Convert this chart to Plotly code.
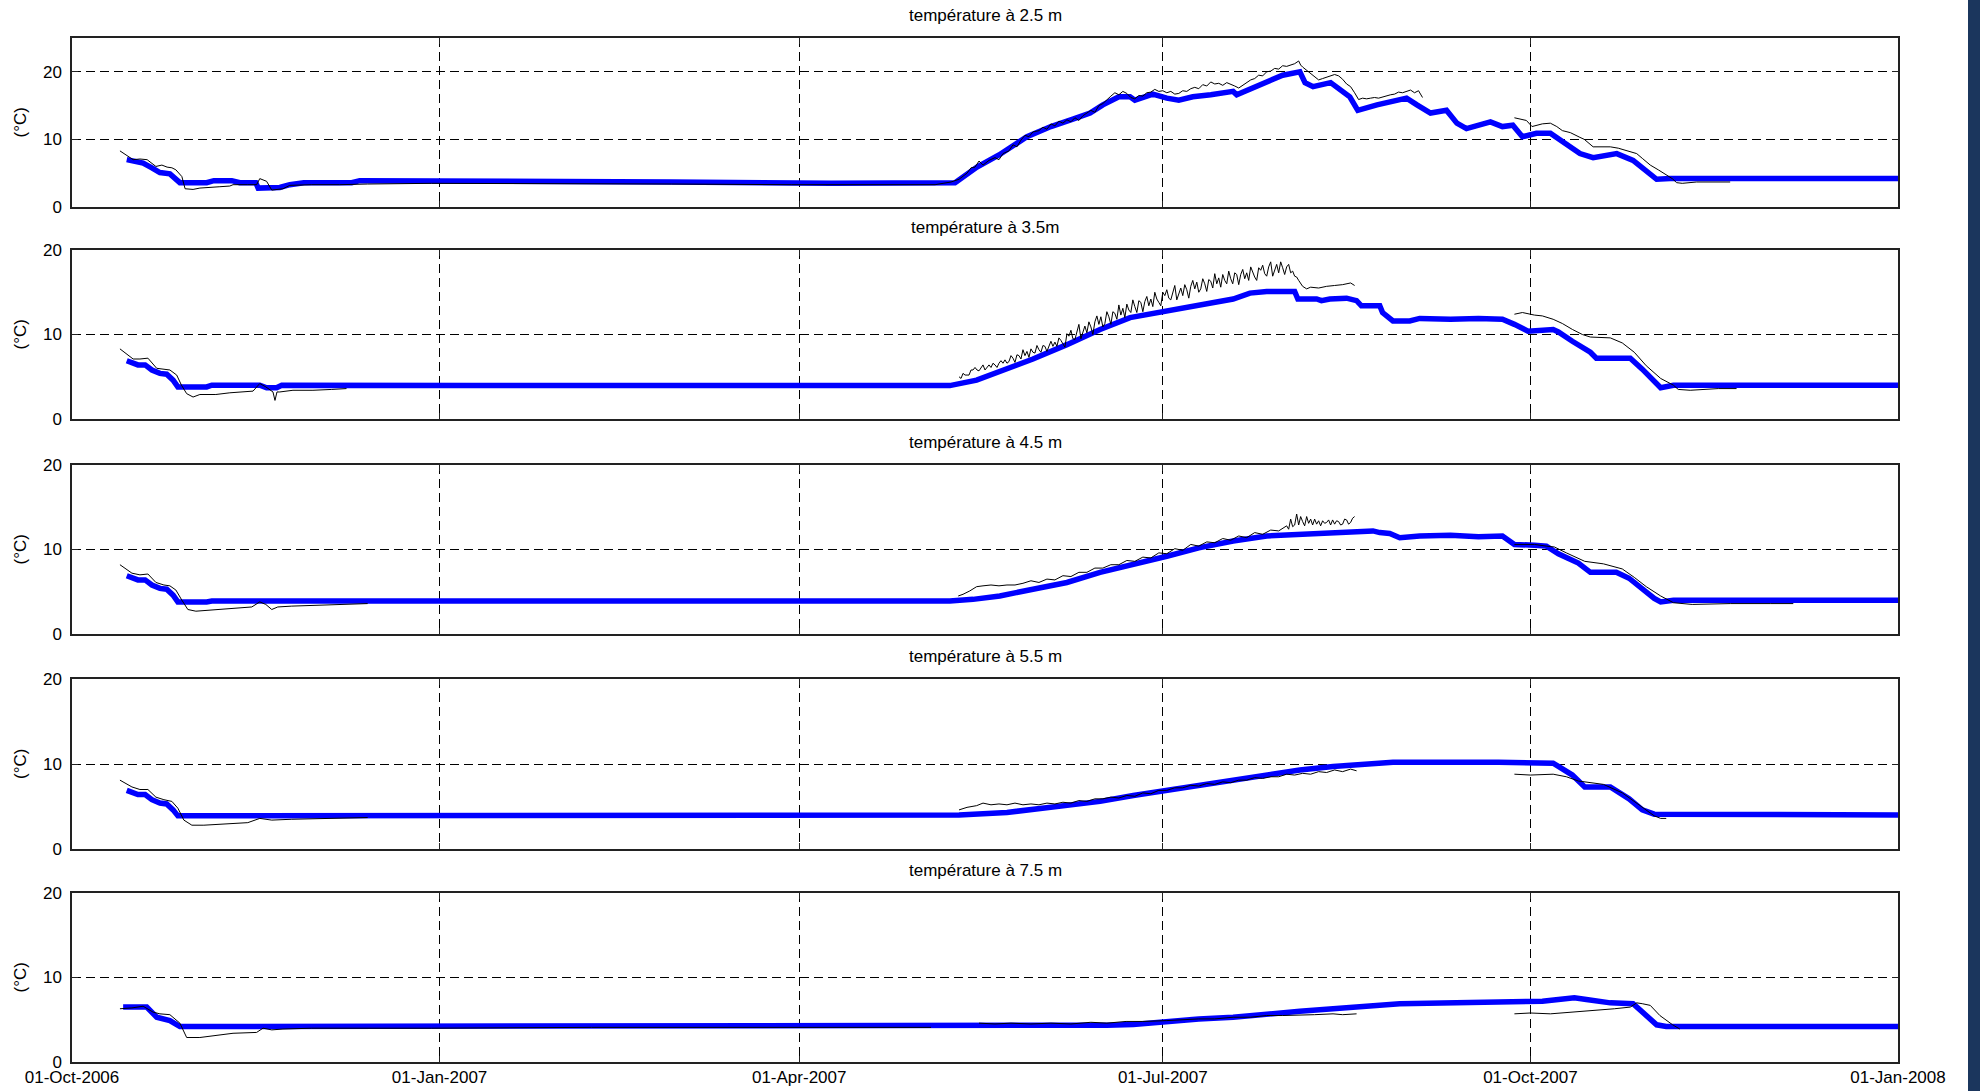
import datetime as dt
import plotly.graph_objects as go
from plotly.subplots import make_subplots

# ---------------- data (days since 01-Oct-2006, temperature in °C) ----------------
titles = ["température à 2.5 m", "température à 3.5m", "température à 4.5 m",
          "température à 5.5 m", "température à 7.5 m"]
tick_dates = ["2006-10-01", "2007-01-01", "2007-04-01", "2007-07-01", "2007-10-01", "2008-01-01"]
y_ticks = [0, 10, 20]

# model (blue)
model_days_1 = [13.7, 16, 17.8, 20, 22, 24.5, 26, 27, 33.7, 35.5, 40, 42, 46, 46.6, 52, 54.5, 58, 70, 72,
                100, 150, 190, 217, 221, 226.5, 232, 239, 245, 250.5, 254.8, 258, 262, 264.8, 266, 270.5,
                274, 277, 280.5, 285, 290.6, 291.5, 297, 303, 307.3, 308.6, 310.6, 315, 319.8, 321.8,
                326.6, 334, 336.6, 340, 344, 346.6, 349, 355, 358, 360.6, 363, 366.5, 370, 373, 377.4,
                380.7, 386.6, 390.7, 394, 396.6, 400, 457]
model_vals_1 = [7.0, 6.6, 6.5, 5.8, 5.1, 4.9, 4.2, 3.6, 3.6, 3.9, 3.9, 3.6, 3.6, 2.8, 2.9, 3.3, 3.6, 3.6, 3.9,
                3.9, 3.7, 3.5, 3.45, 3.6, 5.9, 7.7, 10.4, 11.9, 13.0, 13.9, 15.1, 16.3, 16.3, 15.8, 16.7,
                16.1, 15.8, 16.3, 16.6, 17.1, 16.6, 18.0, 19.5, 20.0, 18.4, 17.8, 18.4, 16.3, 14.3,
                15.1, 16.1, 15.1, 13.9, 14.3, 12.4, 11.6, 12.6, 11.9, 12.1, 10.4, 10.9, 10.9, 9.6, 7.9,
                7.3, 7.9, 6.9, 5.2, 4.1, 4.2, 4.2]

model_days_2 = [13.7, 16.5, 18.3, 20, 22, 23.7, 25.3, 26.5, 33.7, 35, 47, 48.7, 51.2, 52.5, 100, 219.7,
                226.4, 232.2, 240.5, 249, 257.3, 264.8, 274, 282, 290.6, 294.8, 299, 306, 306.8, 311.5,
                312.7, 314.8, 319, 321.5, 322.7, 327.3, 328, 330.6, 334.8, 337.3, 345, 352, 358, 361,
                364.4, 370.7, 372, 375.5, 380, 381.5, 390, 393, 396, 397.6, 400.8, 457]
model_vals_2 = [6.9, 6.4, 6.4, 5.8, 5.4, 5.3, 4.6, 3.8, 3.8, 4.0, 4.0, 3.7, 3.7, 4.0, 3.95, 3.95,
                4.6, 5.6, 7.1, 8.8, 10.6, 12.0, 12.8, 13.5, 14.2, 14.9, 15.1, 15.1, 14.2, 14.2,
                14.0, 14.2, 14.3, 14.0, 13.4, 13.4, 12.6, 11.6, 11.6, 11.9, 11.8, 11.9, 11.8, 11.2,
                10.4, 10.6, 10.3, 9.2, 7.9, 7.2, 7.2, 5.9, 4.4, 3.7, 4.0, 4.0]

model_days_3 = [13.7, 16.5, 18.3, 20, 22, 23.7, 25.3, 26.5, 33.7, 35, 100, 219.7, 225.5, 232.2, 240.5, 249,
                257.3, 265.6, 274, 282, 290.6, 299, 307.3, 314, 320.6, 325.6, 327.3, 329.8, 332.3, 337.3,
                345, 352, 358, 361, 366, 369, 372, 377, 380, 386.5, 389.7, 393, 396, 397.6, 400.8, 457]
model_vals_3 = [6.9, 6.4, 6.4, 5.8, 5.4, 5.3, 4.6, 3.8, 3.8, 3.9, 3.9, 3.9, 4.1, 4.5, 5.3, 6.1,
                7.3, 8.2, 9.2, 10.2, 11.0, 11.6, 11.8, 12.0, 12.2, 12.2, 12.0, 11.9, 11.4, 11.6,
                11.7, 11.5, 11.6, 10.6, 10.5, 10.4, 9.5, 8.4, 7.3, 7.3, 6.6, 5.3, 4.2, 3.8, 4.0, 4.0]

model_days_4 = [13.7, 16.5, 18.3, 20, 22, 23.7, 25.3, 26.5, 30, 222, 234, 240.5, 249, 257.3, 265.6, 274,
                282, 290.6, 299, 307.3, 315.6, 324, 330.6, 357, 370.7, 375.5, 378.6, 385, 389.7, 393,
                396, 457]
model_vals_4 = [6.9, 6.4, 6.4, 5.8, 5.4, 5.3, 4.6, 3.9, 3.9, 4.0, 4.3, 4.7, 5.1, 5.6, 6.3, 6.9,
                7.5, 8.1, 8.7, 9.3, 9.7, 10.0, 10.2, 10.2, 10.1, 8.7, 7.3, 7.3, 5.9, 4.6,
                4.1, 4.0]

model_days_5 = [12.8, 18.7, 21.2, 24.5, 27, 255.6, 259, 265.6, 274, 282, 290.6, 299, 307.3, 315.6, 324,
                332.3, 357, 368, 372, 376, 379, 382, 385, 390.7, 394, 396.6, 399, 457]
model_vals_5 = [6.5, 6.5, 5.3, 4.9, 4.2, 4.2, 4.35, 4.45, 4.8, 5.1, 5.3, 5.7, 6.0, 6.3, 6.6,
                6.9, 7.1, 7.2, 7.4, 7.6, 7.4, 7.2, 7.0, 6.9, 5.5, 4.4, 4.2, 4.2]

# observations (black), None = gap in the record
obs_days_1 = [12, 13.8, 15.3, 17, 18.8, 21, 22.5, 23.8, 25, 26, 27.5, 28.3, 30.3, 32, 33.7, 37, 39.5, 40.3,
              44, 46.2, 47, 48.7, 50, 52.8, 54.5, 60, 67, 74, 90, 120, 150, 180, 216,
              218, 220, 222, 224, 225, 226, 227, 228, 229.5, 231, 232, 233, 234.5, 235.5, 236.5, 237.5,
              238.5, 239.5, 240.5, 242, 243, 244, 245, 246, 247, 248, 249, 250, 251, 252, 253, 254, 255,
              256, 257, 258, 259, 260, 261, 262, 263, 264, 265, 266, 267, 268, 269, 270, 271, 272, 273,
              274, 275, 276, 277, 278, 279, 280, 281, 282, 283, 284, 285, 286, 287, 288, 289, 290, 291,
              292, 293, 294, 295, 296, 297, 298, 299, 300, 301, 302, 303, 304, 305, 306, 307, 307.5, 308,
              309, 310, 311, 312, 313, 314, 315, 316, 317, 318, 319, 320, 321, 322, 323, 324, 325, 326,
              327, 328, 329, 330, 331, 332, 333, 334, 335, 336, 337, 338, None,
              361, 362.5, 364, 365.4, 366.5, 368, 370, 371.6, 373, 375, 377.4, 378.5, 380.7, 383, 385,
              387, 389, 391.6, 393, 395, 397, 399, 400.5, 401.6, 403, 406.6, 410, 415]
obs_vals_1 = [8.3, 7.6, 7.0, 7.1, 7.0, 6.0, 6.2, 5.9, 5.8, 5.5, 4.5, 2.7, 2.6, 2.8, 2.9, 3.0, 3.1, 3.3,
              3.3, 3.3, 4.2, 3.8, 2.5, 2.7, 3.2, 3.3, 3.3, 3.4, 3.5, 3.5, 3.4, 3.3, 3.3,
              3.5, 3.7, 4.1, 5.0, 5.8, 5.9, 6.8, 6.2, 6.9, 7.3, 7.0, 7.9, 8.3, 9.2, 8.9, 9.9,
              10.6, 10.4, 11.1, 11.3, 11.8, 11.5, 12.3, 12.0, 12.7, 12.4, 12.9, 12.6, 13.2, 12.8, 13.5, 13.9, 14.3,
              14.0, 15.0, 15.3, 15.9, 16.4, 16.9, 16.6, 17.1, 16.8, 16.2, 16.0, 16.5, 16.4, 16.9, 17.0, 17.4, 17.1, 17.2,
              16.9, 17.1, 16.7, 16.8, 17.2, 17.1, 17.5, 17.7, 17.5, 18.1, 17.9, 18.5, 18.2, 18.3, 18.0, 18.4, 18.2, 17.9,
              17.6, 18.0, 18.4, 18.8, 19.0, 19.5, 19.4, 20.0, 20.1, 20.5, 20.4, 20.9, 20.8, 21.0, 21.2, 21.6, 21.0, 20.7,
              20.2, 19.8, 19.2, 18.8, 19.0, 19.2, 19.3, 19.6, 19.4, 18.9, 18.2, 17.8, 16.9, 15.9, 16.1, 16.0, 16.1, 16.2,
              16.1, 16.3, 16.5, 16.6, 16.7, 17.0, 16.9, 17.1, 17.3, 16.9, 17.2, 16.2, None,
              13.2, 13.0, 12.8, 11.9, 12.1, 12.3, 12.4, 11.9, 11.3, 11.0, 10.3, 10.0, 8.9, 8.9, 8.9,
              8.7, 8.4, 7.9, 7.2, 6.2, 5.5, 4.7, 4.2, 3.6, 3.5, 3.7, 3.7, 3.7]

obs_days_2 = [12, 15.3, 17, 19, 21.2, 23, 24.5, 26.2, 27.4, 28.7, 30.3, 32, 36, 39.5, 43, 45.3, 47, 48.5,
              50.3, 50.8, 51.3, 52, 55.3, 60.3, 65, 68.7, None,
              222.0, 222.5, 223.0, 223.5, 224.0, 224.5, 225.0, 225.5, 226.0, 226.5, 227.0, 227.5, 228.0,
              228.5, 229.0, 229.5, 230.0, 230.5, 231.0, 231.5, 232.0, 232.5, 233.0, 233.5, 234.0, 234.5,
              235.0, 235.5, 236.0, 236.5, 237.0, 237.5, 238.0, 238.5, 239.0, 239.5, 240.0, 240.5, 241.0,
              241.5, 242.0, 242.5, 243.0, 243.5, 244.0, 244.5, 245.0, 245.5, 246.0, 246.5, 247.0, 247.5,
              248.0, 248.5, 249.0, 249.5, 250.0, 250.5, 251.0, 251.5, 252.0, 252.5, 253.0, 253.5, 254.0,
              254.5, 255.0, 255.5, 256.0, 256.5, 257.0, 257.5, 258.0, 258.5, 259.0, 259.5, 260.0, 260.5,
              261.0, 261.5, 262.0, 262.5, 263.0, 263.5, 264.0, 264.5, 265.0, 265.5, 266.0, 266.5, 267.0,
              267.5, 268.0, 268.5, 269.0, 269.5, 270.0, 270.5, 271.0, 271.5, 272.0, 272.5, 273.0, 273.5,
              274.0, 274.5, 275.0, 275.5, 276.0, 276.5, 277.0, 277.5, 278.0, 278.5, 279.0, 279.5, 280.0,
              280.5, 281.0, 281.5, 282.0, 282.5, 283.0, 283.5, 284.0, 284.5, 285.0, 285.5, 286.0, 286.5,
              287.0, 287.5, 288.0, 288.5, 289.0, 289.5, 290.0, 290.5, 291.0, 291.5, 292.0, 292.5, 293.0,
              293.5, 294.0, 294.5, 295.0, 295.5, 296.0, 296.5, 297.0, 297.5, 298.0, 298.5, 299.0, 299.5,
              300.0, 300.5, 301.0, 301.5, 302.0, 302.5, 303.0, 303.5, 304.0, 304.5,
              305, 305.5, 306, 306.5, 307, 308, 309, 310, 312, 314, 316, 318, 320, 321, None,
              361, 363, 366, 368, 370.7, 373, 375.5, 378, 380, 385, 388, 391, 394, 397.6, 400.8, 402,
              405, 412, 416.6]
obs_vals_2 = [8.3, 7.1, 7.1, 7.2, 6.0, 5.9, 5.8, 5.2, 4.0, 3.0, 2.6, 2.9, 2.9, 3.1, 3.2, 3.3, 4.2, 3.8,
              3.2, 2.2, 3.2, 3.2, 3.4, 3.4, 3.5, 3.6, None,
              5.0, 4.8, 5.4, 5.2, 5.2, 5.2, 5.8, 5.8, 6.1, 5.8, 5.7, 6.1, 6.4,
              5.8, 6.1, 6.4, 6.1, 6.6, 6.4, 6.1, 6.6, 6.9, 6.6, 7.0, 6.6, 6.8,
              7.5, 7.2, 6.7, 7.6, 7.5, 7.1, 8.2, 7.5, 8.0, 7.3, 8.3, 7.9, 7.8,
              8.7, 8.2, 7.9, 8.7, 8.6, 8.0, 8.7, 9.2, 8.6, 9.1, 8.6, 9.6, 9.3,
              8.9, 8.5, 10.1, 9.8, 10.5, 9.5, 9.4, 10.5, 11.2, 9.5, 10.3, 11.0, 10.2,
              11.5, 10.9, 10.0, 11.5, 12.2, 11.2, 12.1, 10.9, 11.3, 12.7, 12.1, 11.2, 12.7,
              12.5, 11.8, 13.5, 12.3, 13.1, 12.0, 13.6, 12.9, 12.6, 14.1, 13.3, 12.6, 14.0,
              13.8, 12.7, 13.9, 14.5, 13.4, 14.2, 13.3, 15.0, 14.2, 13.8, 13.4, 15.0, 14.6,
              15.3, 14.3, 14.1, 15.1, 15.8, 14.1, 14.9, 15.5, 14.6, 15.9, 15.3, 14.3, 15.7,
              16.4, 15.4, 16.2, 15.0, 15.4, 16.6, 16.0, 15.1, 16.5, 16.3, 15.5, 17.2, 16.0,
              16.7, 15.6, 17.1, 16.4, 16.0, 17.5, 16.6, 16.0, 17.3, 17.1, 15.9, 17.1, 17.7,
              16.6, 17.3, 16.4, 18.0, 17.3, 16.8, 16.4, 17.9, 17.6, 18.2, 17.2, 16.9, 18.0,
              18.6, 16.9, 17.6, 18.3, 17.3, 18.6, 17.9, 17.1, 18.0, 18.3,
              17.3, 17.5, 16.9, 16.8, 16.4, 15.7, 15.4, 15.6, 15.5, 15.7, 15.8, 15.9, 16.1, 15.8, None,
              12.4, 12.6, 12.3, 12.2, 11.8, 11.3, 10.6, 10.0, 9.7, 9.6, 9.0, 7.9, 6.3, 4.8, 4.0, 3.5,
              3.4, 3.6, 3.6]

obs_days_3 = [12, 15, 17, 19, 21, 23, 24.5, 26, 27.5, 29, 31, 34, 38, 42, 45, 47, 48.5, 50, 51.5, 55, 62,
              68, 74, None,
              221.8, 223, 224.7, 226.4, 228, 230, 232, 234, 236, 238, 240, 242, 244, 246, 248, 250, 252,
              254, 256, 258, 260, 262, 264, 266, 268, 270, 272, 274, 276, 278, 280, 282, 284, 286, 288,
              290, 292, 294, 296, 298, 300, 302, 304, 304.5, 305, 305.5, 306, 306.5, 307, 307.5, 308,
              308.5, 309, 309.5, 310, 310.5, 311, 311.5, 312, 312.5, 313, 313.5, 314, 314.5, 315, 315.5,
              316, 316.5, 317, 317.5, 318, 318.5, 319, 319.5, 320, 320.5, 321, None,
              361, 366, 369, 371, 374, 378.6, 383.3, 388, 391, 394, 397.6, 400.8, 405.5, 415, 425, 430.8]
obs_vals_3 = [8.2, 7.2, 7.0, 7.1, 6.1, 5.8, 5.7, 5.2, 4.0, 2.9, 2.7, 2.8, 3.0, 3.1, 3.2, 3.8, 3.5, 2.9, 3.2,
              3.3, 3.4, 3.5, 3.6, None,
              4.5, 4.7, 5.1, 5.6, 5.7, 5.8, 5.7, 5.8, 5.8, 6.0, 6.3, 6.1, 6.5, 6.4, 6.9, 6.8, 7.3,
              7.3, 7.8, 7.8, 8.2, 8.2, 8.7, 8.6, 9.1, 9.0, 9.6, 9.5, 10.1, 9.9, 10.6, 10.4, 10.9, 10.8, 11.3,
              11.1, 11.6, 11.4, 12.0, 11.8, 12.3, 12.2, 12.8, 12.4, 13.6, 12.7, 12.9, 14.2, 12.9, 13.9, 13.3,
              12.8, 13.9, 13.1, 13.6, 12.9, 13.6, 13.0, 13.4, 12.8, 13.4, 13.1, 13.2, 13.5, 12.9, 13.5,
              13.0, 13.4, 13.3, 12.9, 13.0, 13.6, 13.5, 13.0, 13.2, 13.7, 13.9, None,
              10.6, 10.6, 10.4, 10.3, 9.6, 8.6, 8.3, 7.7, 6.7, 5.6, 4.5, 3.7, 3.5, 3.6, 3.6, 3.6]

obs_days_4 = [12, 15, 17, 19, 21, 23, 25, 26.5, 28, 30, 33, 37, 40, 44, 47, 50, 55, 62, 70, 74, None,
              222, 224, 226.4, 228, 230, 232, 234, 236, 238, 240, 242, 244, 246, 248, 250, 252, 254, 256,
              258, 260, 262, 264, 266, 268, 270, 272, 274, 276, 278, 280, 282, 284, 286, 288, 290, 292,
              294, 296, 298, 300, 302, 304, 306, 308, 310, 312, 314, 316, 318, 320, 321.5, None,
              361, 365, 370.7, 374, 377, 380, 383.3, 388, 393, 396, 397.6, 399]
obs_vals_4 = [8.1, 7.3, 7.0, 7.0, 6.1, 5.8, 5.6, 4.8, 3.4, 2.8, 2.8, 2.9, 3.0, 3.1, 3.6, 3.4, 3.5, 3.6, 3.7,
              3.7, None,
              4.6, 4.9, 5.1, 5.4, 5.2, 5.3, 5.2, 5.4, 5.2, 5.3, 5.2, 5.4, 5.3, 5.5, 5.4, 5.7, 5.6, 5.9,
              5.9, 6.1, 6.0, 6.3, 6.2, 6.6, 6.5, 6.9, 6.9, 7.2, 7.2, 7.5, 7.4, 7.7, 7.6, 7.9, 7.8, 8.1,
              8.1, 8.4, 8.3, 8.5, 8.5, 8.8, 8.7, 8.9, 8.8, 9.1, 9.0, 9.3, 9.1, 9.4, 9.2, None,
              8.8, 8.7, 8.8, 8.5, 8.0, 7.8, 7.6, 6.6, 4.9, 3.9, 3.6, 3.6]

obs_days_5 = [12, 15, 17.8, 20.3, 22, 24.5, 27, 28.7, 32, 36, 40.3, 46.2, 47.8, 50, 52.8, 60, 90, 130, 170,
              215, None,
              227, 231, 235, 240, 245, 250, 255, 259, 263.8, 268, 274, 278, 282, 286, 290.6, 295, 299,
              303, 307.3, 311, 315.6, 318, 321.5, None,
              361, 365, 370, 376, 382.4, 386, 390, 391.6, 393, 395, 397.4, 400.6, 402.4]
obs_vals_5 = [6.3, 6.4, 6.6, 5.9, 5.7, 5.6, 4.6, 2.9, 2.9, 3.1, 3.4, 3.5, 4.0, 3.8, 3.9, 4.0, 4.0, 4.1, 4.1,
              4.1, None,
              4.6, 4.5, 4.6, 4.5, 4.6, 4.5, 4.7, 4.6, 4.8, 4.8, 4.9, 5.0, 5.1, 5.1, 5.3, 5.3, 5.5,
              5.5, 5.6, 5.6, 5.7, 5.6, 5.7, None,
              5.7, 5.8, 5.7, 5.9, 6.1, 6.3, 6.5, 7.0, 6.9, 6.7, 5.5, 4.4, 3.9]

model_days = [model_days_1, model_days_2, model_days_3, model_days_4, model_days_5]
model_vals = [model_vals_1, model_vals_2, model_vals_3, model_vals_4, model_vals_5]
obs_days = [obs_days_1, obs_days_2, obs_days_3, obs_days_4, obs_days_5]
obs_vals = [obs_vals_1, obs_vals_2, obs_vals_3, obs_vals_4, obs_vals_5]
y_max = [25, 20, 20, 20, 20]

# ---------------- figure ----------------
BASE = dt.datetime(2006, 10, 1)


def to_dates(days):
    return [None if d is None else (BASE + dt.timedelta(days=d)).strftime("%Y-%m-%d %H:%M:%S")
            for d in days]


W, H = 1980, 1091
ML, MR, MT, MB = 72, 82, 38, 29
PW, PH = W - ML - MR, H - MT - MB
panel_px = [(38, 207), (250, 419), (465, 634), (679, 849), (893, 1062)]  # top, bottom in px


def py(px):
    return (H - MB - px) / PH


fig = make_subplots(rows=5, cols=1, shared_xaxes=True)
FONT = "Liberation Sans, Arial, sans-serif"

for i in range(5):
    r = i + 1
    fig.add_trace(go.Scatter(x=to_dates(model_days[i]), y=model_vals[i], mode="lines",
                             line=dict(color="#0000ff", width=5.5), hoverinfo="skip",
                             showlegend=False), row=r, col=1)
    fig.add_trace(go.Scatter(x=to_dates(obs_days[i]), y=obs_vals[i], mode="lines",
                             line=dict(color="black", width=1), connectgaps=False,
                             hoverinfo="skip", showlegend=False), row=r, col=1)
    top, bot = panel_px[i]
    yname = "yaxis" if r == 1 else f"yaxis{r}"
    xname = "xaxis" if r == 1 else f"xaxis{r}"
    fig.layout[yname].update(
        domain=[py(bot), py(top)], range=[0, y_max[i]], tickvals=y_ticks, automargin=False,
        showgrid=True, gridcolor="black", gridwidth=1, griddash="9px,5px", zeroline=False,
        showline=True, linecolor="#222222", linewidth=1.5, mirror="ticks",
        ticks="inside", ticklen=6, tickcolor="#222222", ticklabelstandoff=5,
        tickfont=dict(family=FONT, size=17, color="black"), fixedrange=True)
    fig.layout[xname].update(
        type="date", range=[tick_dates[0], tick_dates[-1]], tickvals=tick_dates,
        tickformat="%d-%b-%Y", showticklabels=(r == 5), automargin=False,
        showgrid=True, gridcolor="black", gridwidth=1, griddash="9px,5px", zeroline=False,
        showline=True, linecolor="#222222", linewidth=1.5, mirror="ticks",
        ticks="inside", ticklen=6, tickcolor="#222222", ticklabelstandoff=-1,
        tickfont=dict(family=FONT, size=17, color="black"))
    fig.add_annotation(text=titles[i], xref="paper", yref="paper", x=0.5, y=py(top),
                       yshift=23, xanchor="center", yanchor="middle", showarrow=False,
                       font=dict(family=FONT, size=17, color="black"))
    fig.add_annotation(text="(°C)", xref="paper", yref="paper", x=(20 - ML) / PW,
                       y=(py(top) + py(bot)) / 2, textangle=-90, xanchor="center",
                       yanchor="middle", showarrow=False,
                       font=dict(family=FONT, size=17, color="black"))

# dark frame stripe on the right edge of the picture
fig.add_annotation(text=" ", xref="paper", yref="paper", x=(1974 - ML) / PW, y=py(H / 2),
                   xanchor="center", yanchor="middle", showarrow=False,
                   width=12, height=H + 20, bgcolor="#1b365d", borderpad=0, borderwidth=0)

fig.update_layout(width=W, height=H, margin=dict(l=ML, r=MR, t=MT, b=MB, pad=0, autoexpand=False),
                  paper_bgcolor="white", plot_bgcolor="white",
                  font=dict(family=FONT, size=17, color="black"), showlegend=False)

fig.write_html("out.html", config={"displayModeBar": False},
               post_script="document.body.style.margin='0';document.body.style.overflow='hidden';")
